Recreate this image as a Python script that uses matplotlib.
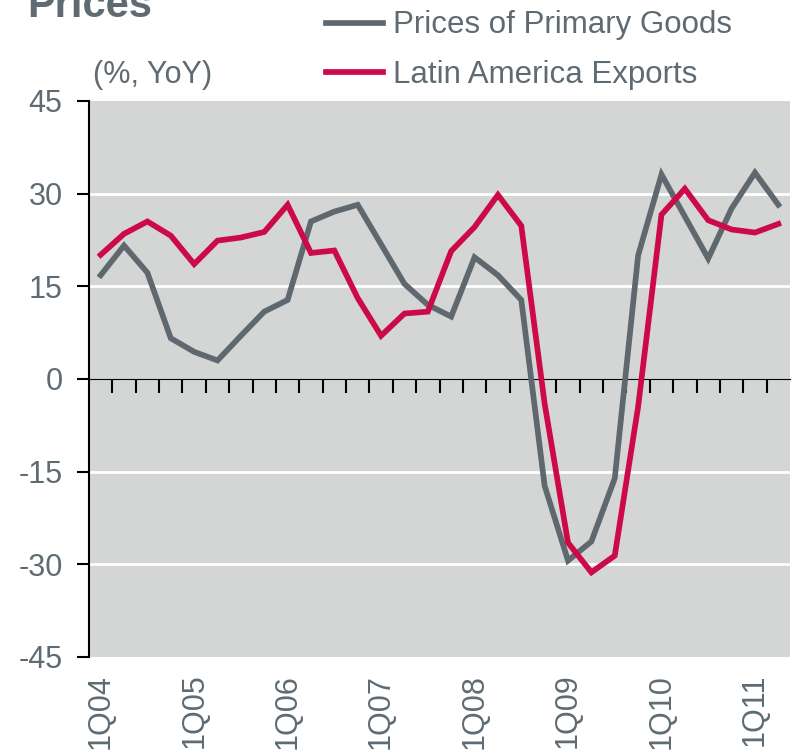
import matplotlib
matplotlib.use("Agg")
import matplotlib.pyplot as plt
import numpy as np

quarters = [f"{q}Q{y:02d}" for y in range(4, 12) for q in range(1, 5)][:30]
tick_labels = ["1Q04", "1Q05", "1Q06", "1Q07", "1Q08", "1Q09", "1Q10", "1Q11"]

primary_goods = [16.8, 21.6, 17.2, 6.6, 4.4, 3.0, 7.0, 10.9, 12.8, 25.5,
                 27.1, 28.2, 21.8, 15.4, 12.0, 10.1, 19.7, 16.8, 12.8, -17.3,
                 -29.4, -26.3, -16.1, 20.0, 33.1, 26.3, 19.5, 27.6, 33.4, 28.2]
latam_exports = [20.1, 23.5, 25.5, 23.2, 18.6, 22.4, 22.9, 23.8, 28.2, 20.4,
                 20.8, 13.1, 7.0, 10.6, 10.9, 20.7, 24.6, 29.8, 24.8, -4.0,
                 -26.5, -31.3, -28.6, -4.5, 26.6, 30.8, 25.7, 24.2, 23.7, 25.1]

GRAY = "#5e686e"
RED = "#cc0a47"
TXT = "#5f6b73"
FONT = "Liberation Sans"
FS = 22

plt.rcParams['font.family'] = [FONT, 'DejaVu Sans']

fig = plt.figure(figsize=(7.92, 7.52), dpi=100)
ax = fig.add_axes([89/792, 1-657/752, 701/792, (657-101)/752])
ax.set_facecolor("#d4d5d5")

x = np.arange(len(quarters))
l1, = ax.plot(x, primary_goods, color=GRAY, lw=4.1, solid_joinstyle='miter', label="Prices of Primary Goods")
l2, = ax.plot(x, latam_exports, color=RED, lw=4.1, solid_joinstyle='miter', label="Latin America Exports")

ax.set_xlim(-0.5, len(quarters) - 0.5)
ax.set_ylim(-45, 45)
yt = [-45, -30, -15, 0, 15, 30, 45]
ax.set_yticks(yt)
ax.set_yticklabels([str(v) for v in yt])
for v in [-30, -15, 15, 30]:
    ax.axhline(v, color="white", lw=2, zorder=1)
for l in (l1, l2):
    l.set_zorder(3)

for s in ["top", "right", "bottom"]:
    ax.spines[s].set_visible(False)
ax.spines["left"].set_linewidth(1.5)
ax.spines["left"].set_color("black")
ax.tick_params(axis='y', direction='out', length=9, width=1.5, color='black',
               labelsize=FS, labelcolor=TXT, pad=10)

label_pos = [quarters.index(t) for t in tick_labels]
ax.set_xticks(label_pos)
ax.set_xticklabels(tick_labels, rotation=90, va='top', ha='center')
ax.tick_params(axis='x', length=0, labelsize=FS, labelcolor=TXT, pad=12)

sec = ax.secondary_xaxis(0.5)
sec.spines["bottom"].set_linewidth(1.8)
sec.spines["bottom"].set_color("black")
sec.set_xticks(np.arange(0.5, len(quarters) - 0.5, 1.0))
sec.set_xticklabels([])
sec.tick_params(axis='x', direction='in', length=10, width=1.5, color='black')
sec.set_zorder(2)

fig.text(27/792, 1-17/752, "Prices", fontsize=30, fontweight='bold', color=TXT,
         ha='left', va='baseline', fontfamily=FONT)
fig.text(93/792, 1-75/752, "(%, YoY)", fontsize=FS, color=TXT, ha='left', va='center')

leg = fig.legend(handles=[l1, l2], loc='upper left', bbox_to_anchor=(313/792, 1+2/752),
                 frameon=False, fontsize=FS + 0.5, handlelength=1.85, handletextpad=0.3,
                 labelspacing=0.62, borderaxespad=0)
for t in leg.get_texts():
    t.set_color(TXT)

fig.savefig("out.png", dpi=100)
